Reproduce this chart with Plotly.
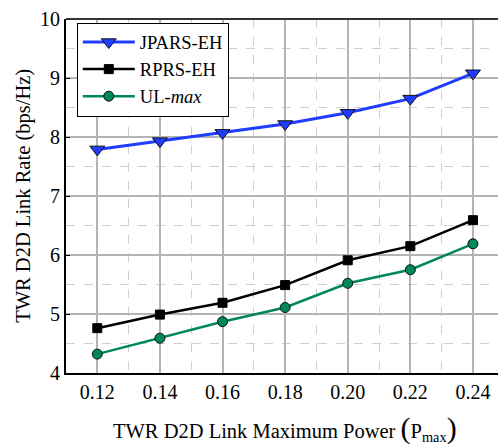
import plotly.graph_objects as go

power = [0.12, 0.14, 0.16, 0.18, 0.20, 0.22, 0.24]
jpars_eh = [7.79, 7.93, 8.07, 8.22, 8.41, 8.65, 9.08]
rprs_eh = [4.76, 4.99, 5.19, 5.49, 5.91, 6.15, 6.59]
ul_max = [4.32, 4.59, 4.87, 5.11, 5.52, 5.75, 6.19]
x_ticks = [0.12, 0.14, 0.16, 0.18, 0.20, 0.22, 0.24]
x_labels = ["0.12", "0.14", "0.16", "0.18", "0.20", "0.22", "0.24"]
y_ticks = [4, 5, 6, 7, 8, 9, 10]

FONT = "Times New Roman, Liberation Serif, serif"

fig = go.Figure()
fig.add_trace(go.Scatter(
    x=power, y=jpars_eh, mode="lines+markers", name="JPARS-EH",
    line=dict(color="#1f3cff", width=3),
    marker=dict(symbol="triangle-down", size=13, color="#1f3cff",
                line=dict(color="#111111", width=1))))
fig.add_trace(go.Scatter(
    x=power, y=rprs_eh, mode="lines+markers", name="RPRS-EH",
    line=dict(color="#000000", width=2.5),
    marker=dict(symbol="square", size=9, color="#000000",
                line=dict(color="#000000", width=1))))
fig.add_trace(go.Scatter(
    x=power, y=ul_max, mode="lines+markers", name="UL-<i>max</i>",
    line=dict(color="#00875a", width=2.5),
    marker=dict(symbol="circle", size=10, color="#00875a",
                line=dict(color="#111111", width=1))))

fig.update_layout(
    width=498, height=445,
    margin=dict(l=66, r=0, t=19, b=72),
    paper_bgcolor="white", plot_bgcolor="white",
    font=dict(family=FONT, size=19, color="black"),
    showlegend=True,
    legend=dict(x=0.025, y=0.99, xanchor="left", yanchor="top",
                bgcolor="white", bordercolor="black", borderwidth=1,
                font=dict(family=FONT, size=18.5, color="black"), itemwidth=52,
                tracegroupgap=2),
    xaxis=dict(range=[0.11, 0.248], tickvals=x_ticks, ticktext=x_labels,
               showline=True, linecolor="black", linewidth=2,
               ticks="", showgrid=True, gridcolor="#b4b4b4", gridwidth=1.5,
               zeroline=False,
               minor=dict(dtick=0.01, tick0=0.11, showgrid=True,
                          gridcolor="#cfcfcf", griddash="dash", gridwidth=1),
               tickfont=dict(family=FONT, size=20, color="black")),
    yaxis=dict(range=[4, 10], tickvals=y_ticks,
               showline=True, linecolor="black", linewidth=2,
               ticks="inside", ticklen=4, tickcolor="black",
               showgrid=True, gridcolor="#b4b4b4", gridwidth=1.5,
               zeroline=False,
               minor=dict(dtick=0.5, tick0=4, showgrid=True,
                          gridcolor="#cfcfcf", griddash="dash", gridwidth=1),
               tickfont=dict(family=FONT, size=20, color="black")),
    shapes=[dict(type="line", xref="paper", yref="paper", x0=0, x1=1,
                 y0=1, y1=1, line=dict(color="#333333", width=2))],
    annotations=[
        dict(text="TWR D2D Link Rate (bps/Hz)", xref="paper", yref="paper",
             x=-0.1, y=0.5, xanchor="center", yanchor="middle",
             textangle=-90, showarrow=False,
             font=dict(family=FONT, size=20.5, color="black")),
        dict(text="TWR D2D Link Maximum Power <span style='font-size:30px'>(</span>P<sub>max</sub><span style='font-size:30px'>)</span>",
             xref="paper", yref="paper", x=0.508, y=-0.155,
             xanchor="center", yanchor="middle", showarrow=False,
             font=dict(family=FONT, size=20.5, color="black")),
    ],
)

fig.write_html("out.html")
